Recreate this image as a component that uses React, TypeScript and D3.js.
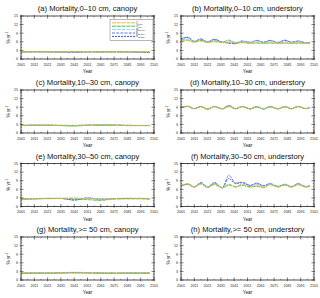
import React from "react";
import * as d3 from "d3";

const YEARS = [2001, 2006, 2011, 2016, 2021, 2026, 2032, 2037, 2042, 2047, 2053, 2058, 2063, 2068, 2074, 2079, 2084, 2089, 2095, 2098];
const YEARS_FLAT = [2001, 2011, 2021, 2031, 2041, 2051, 2061, 2071, 2081, 2091, 2098];

const X_TICKS = [2001, 2011, 2021, 2031, 2041, 2051, 2061, 2071, 2081, 2091, 2101];
const Y_TICKS = [0, 3, 6, 9, 12, 15];

const SERIES_NAMES = ["C", "G", "M", "B", "N"];
const SERIES_SUBS = ["base", "hist", "ssp126", "ssp245", "ssp585"];
const SERIES_COLORS = ["#f2b431", "#3ccc3c", "#a3d3f0", "#5a78ff", "#3a52c8"];
const SERIES_DASH = ["4,0.8", "4,0.8", "4,0.8", "3,1.2", "2,1"];

const TITLES = [
  "(a) Mortality,0\u201310 cm, canopy",
  "(b) Mortality,0\u201310 cm, understory",
  "(c) Mortality,10\u201330 cm, canopy",
  "(d) Mortality,10\u201330 cm, understory",
  "(e) Mortality,30\u201350 cm, canopy",
  "(f) Mortality,30\u201350 cm, understory",
  "(g) Mortality,>= 50 cm, canopy",
  "(h) Mortality,>= 50 cm, understory",
];

// panel a (flat grid)
const A_VALUES = [
  [2.5, 2.5, 2.5, 2.5, 2.5, 2.5, 2.5, 2.5, 2.5, 2.5, 2.5],
  [2.5, 2.6, 2.5, 2.5, 2.6, 2.5, 2.5, 2.5, 2.5, 2.5, 2.4],
  [2.6, 2.6, 2.6, 2.5, 2.6, 2.6, 2.6, 2.6, 2.6, 2.6, 2.6],
  [2.5, 2.5, 2.5, 2.4, 2.3, 2.5, 2.5, 2.5, 2.5, 2.3, 2.2],
  [2.5, 2.5, 2.5, 2.4, 2.4, 2.5, 2.5, 2.5, 2.5, 2.4, 2.3],
];
// panel b (wave grid)
const B_VALUES = [
  [6.3, 6.4, 5.9, 6.2, 5.8, 6.0, 5.7, 5.9, 5.6, 5.8, 5.5, 5.6, 5.4, 5.6, 5.4, 5.5, 5.4, 5.5, 5.4, 5.4],
  [6.6, 6.6, 5.9, 6.5, 5.8, 6.3, 5.8, 6.6, 5.6, 5.7, 5.5, 5.6, 5.5, 5.6, 5.5, 5.6, 5.5, 5.6, 5.5, 5.5],
  [6.8, 7.0, 6.0, 6.6, 5.9, 6.4, 5.8, 6.0, 5.9, 6.2, 5.8, 6.2, 5.8, 6.1, 5.7, 6.1, 5.8, 6.0, 5.7, 5.6],
  [7.0, 7.6, 6.2, 7.0, 6.0, 6.9, 5.9, 5.5, 5.3, 6.3, 5.8, 6.5, 5.8, 6.5, 5.8, 6.6, 5.9, 6.3, 5.6, 5.6],
  [7.1, 7.5, 6.1, 6.9, 6.0, 6.8, 5.9, 5.6, 5.4, 6.2, 5.8, 6.4, 5.9, 6.4, 5.7, 6.5, 5.8, 6.2, 5.7, 5.7],
];
// panel c (flat grid)
const C_VALUES = [
  [2.6, 2.7, 2.7, 2.7, 2.6, 2.7, 2.7, 2.7, 2.6, 2.6, 2.6],
  [2.6, 2.7, 2.7, 2.6, 2.4, 2.7, 2.8, 2.8, 2.7, 2.6, 2.6],
  [2.7, 2.8, 2.7, 2.7, 2.7, 2.8, 2.8, 2.7, 2.7, 2.7, 2.7],
  [2.6, 2.7, 2.7, 2.6, 2.6, 2.7, 2.7, 2.7, 2.6, 2.6, 2.6],
  [2.6, 2.7, 2.7, 2.6, 2.6, 2.7, 2.7, 2.7, 2.6, 2.6, 2.6],
];
// panel d (wave grid)
const D_VALUES = [
  [8.9, 9.3, 8.4, 9.2, 8.3, 9.2, 8.4, 9.3, 8.5, 9.2, 8.4, 9.2, 8.4, 9.2, 8.4, 9.2, 8.4, 9.2, 8.5, 8.9],
  [8.9, 9.2, 8.5, 9.3, 8.2, 9.3, 8.4, 9.2, 8.4, 9.3, 8.5, 9.3, 8.3, 9.3, 8.4, 9.1, 8.5, 9.2, 8.5, 8.9],
  [9.0, 9.3, 8.5, 9.2, 8.4, 9.2, 8.5, 9.3, 8.5, 9.2, 8.5, 9.1, 8.5, 9.2, 8.5, 9.2, 8.5, 9.2, 8.6, 9.0],
  [8.8, 9.3, 8.5, 9.2, 8.4, 9.2, 8.5, 9.6, 8.5, 9.2, 8.4, 9.1, 8.4, 9.1, 8.5, 9.2, 8.5, 9.3, 8.5, 9.0],
  [8.8, 9.3, 8.5, 9.2, 8.4, 9.2, 8.5, 9.5, 8.5, 9.2, 8.4, 9.1, 8.4, 9.1, 8.5, 9.2, 8.5, 9.2, 8.5, 9.0],
];
// panel e (flat grid)
const E_VALUES = [
  [2.6, 2.7, 2.7, 2.8, 3.0, 2.6, 2.5, 2.6, 2.6, 2.7, 2.6],
  [2.6, 2.7, 2.8, 2.8, 2.6, 2.4, 2.1, 2.7, 2.8, 2.7, 2.6],
  [2.7, 2.8, 2.9, 2.9, 2.8, 2.9, 2.7, 2.8, 2.9, 2.9, 2.8],
  [2.6, 2.7, 2.8, 2.8, 2.2, 3.0, 2.6, 2.8, 2.8, 2.8, 2.7],
  [2.6, 2.7, 2.8, 2.8, 2.3, 2.9, 2.5, 2.7, 2.8, 2.8, 2.7],
];
// panel f (wave grid)
const F_VALUES = [
  [7.2, 8.0, 6.8, 7.8, 6.6, 7.6, 6.5, 7.8, 6.8, 7.6, 6.6, 7.5, 6.6, 7.7, 6.7, 7.6, 6.7, 7.7, 6.8, 7.2],
  [7.2, 7.8, 6.8, 8.0, 6.6, 7.8, 6.5, 7.5, 6.8, 7.4, 6.9, 7.0, 6.6, 7.6, 6.9, 7.8, 6.8, 7.6, 6.8, 7.2],
  [7.3, 7.8, 6.9, 8.0, 6.7, 8.0, 6.6, 7.6, 7.0, 7.8, 7.0, 7.8, 6.8, 7.8, 6.9, 7.5, 6.9, 7.8, 6.9, 7.2],
  [7.3, 7.7, 6.9, 8.4, 6.8, 8.4, 6.6, 10.9, 8.2, 8.5, 7.4, 8.2, 7.3, 8.0, 7.0, 7.6, 7.0, 8.0, 7.0, 7.3],
  [7.2, 7.8, 6.8, 8.2, 6.7, 8.2, 6.6, 9.8, 8.0, 8.3, 7.3, 8.0, 7.2, 7.9, 7.0, 7.6, 6.9, 7.9, 6.9, 7.2],
];
// panel g (flat grid)
const G_VALUES = [
  [2.4, 2.4, 2.4, 2.5, 2.5, 2.5, 2.4, 2.4, 2.4, 2.4, 2.4],
  [2.4, 2.4, 2.4, 2.5, 2.6, 2.5, 2.4, 2.3, 2.4, 2.4, 2.4],
  [2.5, 2.5, 2.5, 2.6, 2.7, 2.6, 2.5, 2.5, 2.5, 2.5, 2.5],
  [2.3, 2.4, 2.4, 2.5, 2.6, 2.5, 2.4, 2.4, 2.4, 2.4, 2.4],
  [2.3, 2.4, 2.4, 2.5, 2.5, 2.5, 2.4, 2.4, 2.4, 2.4, 2.4],
];

const PANELS = [
  { years: YEARS_FLAT, values: A_VALUES },
  { years: YEARS, values: B_VALUES },
  { years: YEARS_FLAT, values: C_VALUES },
  { years: YEARS, values: D_VALUES },
  { years: YEARS_FLAT, values: E_VALUES },
  { years: YEARS, values: F_VALUES },
  { years: YEARS_FLAT, values: G_VALUES },
  { years: YEARS, values: [] as number[][] },
];

const COL_X = [21, 181];
const ROW_Y = [16, 90, 163.5, 237];
const PW = 133;
const PH = 43;
const FONT = "Liberation Sans, Arial, Helvetica, sans-serif";
// draw order: last series first so the first (orange) sits on top
const DRAW_ORDER = [4, 3, 2, 1, 0];

function Panel({ idx }: { idx: number }) {
  const col = idx % 2;
  const row = Math.floor(idx / 2);
  const x0 = COL_X[col];
  const y0 = ROW_Y[row];
  const x = d3.scaleLinear().domain([2001, 2101]).range([x0, x0 + PW]);
  const y = d3.scaleLinear().domain([0, 15]).range([y0 + PH, y0]);
  const p = PANELS[idx];
  const line = d3
    .line<number>()
    .x((_, i) => x(p.years[i]))
    .y((v) => y(v))
    .curve(d3.curveMonotoneX);
  const xMinor = d3.range(2001, 2102, 5).filter((v) => !X_TICKS.includes(v));
  const yMinor = d3.range(0, 16, 1).filter((v) => !Y_TICKS.includes(v));
  const tc = "#222";
  return (
    <g>
      <text x={x0 + PW / 2} y={y0 - 5} fontSize={7.6} textAnchor="middle" fontFamily={FONT} fill="#111">
        {TITLES[idx]}
      </text>
      {p.values.length > 0 &&
        DRAW_ORDER.map((s) => (
          <path
            key={s}
            d={line(p.values[s]) || ""}
            fill="none"
            stroke={SERIES_COLORS[s]}
            strokeWidth={0.9}
            strokeDasharray={SERIES_DASH[s]}
          />
        ))}
      <rect x={x0} y={y0} width={PW} height={PH} fill="none" stroke={tc} strokeWidth={0.8} />
      {X_TICKS.map((t) => (
        <g key={"xt" + t}>
          <line x1={x(t)} x2={x(t)} y1={y0 + PH + 1.2} y2={y0 + PH - 2.5} stroke={tc} strokeWidth={0.6} />
          <line x1={x(t)} x2={x(t)} y1={y0 - 1.2} y2={y0 + 2.5} stroke={tc} strokeWidth={0.6} />
          <text x={x(t)} y={y0 + PH + 6.5} fontSize={3.6} textAnchor="middle" fontFamily={FONT} fill="#222">
            {t}
          </text>
        </g>
      ))}
      {xMinor.map((t) => (
        <g key={"xm" + t}>
          <line x1={x(t)} x2={x(t)} y1={y0 + PH} y2={y0 + PH - 1.3} stroke={tc} strokeWidth={0.4} />
          <line x1={x(t)} x2={x(t)} y1={y0} y2={y0 + 1.3} stroke={tc} strokeWidth={0.4} />
        </g>
      ))}
      {Y_TICKS.map((t) => (
        <g key={"yt" + t}>
          <line x1={x0 - 1.2} x2={x0 + 2.5} y1={y(t)} y2={y(t)} stroke={tc} strokeWidth={0.6} />
          <line x1={x0 + PW + 1.2} x2={x0 + PW - 2.5} y1={y(t)} y2={y(t)} stroke={tc} strokeWidth={0.6} />
          <text x={x0 - 3} y={y(t) + 1.3} fontSize={3.6} textAnchor="end" fontFamily={FONT} fill="#222">
            {t}
          </text>
        </g>
      ))}
      {yMinor.map((t) => (
        <g key={"ym" + t}>
          <line x1={x0} x2={x0 + 1.3} y1={y(t)} y2={y(t)} stroke={tc} strokeWidth={0.4} />
          <line x1={x0 + PW} x2={x0 + PW - 1.3} y1={y(t)} y2={y(t)} stroke={tc} strokeWidth={0.4} />
        </g>
      ))}
      <text x={x0 + PW / 2} y={y0 + PH + 14} fontSize={4.8} textAnchor="middle" fontFamily={FONT} fill="#222">
        Year
      </text>
      <text
        transform={`translate(${x0 - 11},${y0 + PH / 2}) rotate(-90)`}
        fontSize={4.6}
        textAnchor="middle"
        fontFamily={FONT}
        fill="#222"
      >
        % yr<tspan dy={-1.8} fontSize={3}>-1</tspan>
      </text>
    </g>
  );
}

function Legend() {
  const lx = 110;
  const ly = 19.5;
  const w = 43;
  const h = 21;
  return (
    <g>
      <rect x={lx} y={ly} width={w} height={h} fill="#fff" stroke="#888" strokeWidth={0.6} />
      {SERIES_COLORS.map((c, i) => {
        const yy = ly + 3.3 + i * 3.4;
        return (
          <g key={i}>
            <line
              x1={lx + 2}
              x2={lx + 25}
              y1={yy}
              y2={yy}
              stroke={c}
              strokeWidth={1}
              strokeDasharray={SERIES_DASH[i]}
            />
            <text x={lx + 26} y={yy + 1} fontSize={2.8} fontFamily={FONT} fill="#444">
              {SERIES_NAMES[i]}
              <tspan fontSize={2} dy={0.8}>
                {SERIES_SUBS[i]}
              </tspan>
            </text>
          </g>
        );
      })}
    </g>
  );
}

export default function App() {
  return (
    <svg
      width={320}
      height={298}
      viewBox="0 0 320 298"
      style={{ position: "fixed", left: 0, top: 0, background: "#fff" }}
    >
      <rect x={0} y={0} width={320} height={298} fill="#fff" />
      {TITLES.map((_, i) => (
        <Panel key={i} idx={i} />
      ))}
      <Legend />
    </svg>
  );
}
